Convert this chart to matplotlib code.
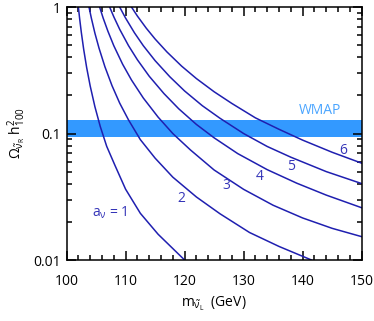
import numpy as np
import matplotlib
matplotlib.use("Agg")
import matplotlib.pyplot as plt
from matplotlib.ticker import MultipleLocator, FixedLocator, FixedFormatter

plt.rcParams['font.family'] = ['Open Sans', 'DejaVu Sans']
plt.rcParams['mathtext.fontset'] = 'custom'
plt.rcParams['mathtext.rm'] = 'Open Sans'
plt.rcParams['mathtext.it'] = 'Open Sans'
plt.rcParams['mathtext.sf'] = 'Open Sans'

# curve values: sneutrino mass (GeV) vs relic density
m1 = [102.0, 102.2, 102.5, 102.9, 103.4, 104.0, 104.8, 105.7, 106.8, 108.2, 110.0, 112.5, 115.5, 120.0]
o1 = [1.0, 0.821, 0.630, 0.463, 0.333, 0.238, 0.163, 0.114, 0.0792, 0.0560, 0.0363, 0.0234, 0.0160, 0.01]

m2 = [103.8, 104.2, 104.8, 105.5, 106.5, 107.7, 109.0, 110.5, 112.5, 115.0, 118.0, 122.0, 126.0, 131.0, 136.0, 141.5]
o2 = [1.0, 0.817, 0.622, 0.473, 0.337, 0.239, 0.174, 0.128, 0.0895, 0.0639, 0.0452, 0.0315, 0.0232, 0.0165, 0.0128, 0.01]

m3 = [105.6, 106.2, 107.0, 108.0, 109.5, 111.0, 113.0, 115.5, 118.0, 121.0, 125.0, 130.0, 135.0, 140.0, 145.0, 150.0]
o3 = [1.0, 0.818, 0.645, 0.495, 0.353, 0.265, 0.191, 0.135, 0.100, 0.0741, 0.0515, 0.0362, 0.0271, 0.0215, 0.0178, 0.0153]

m4 = [107.3, 108.0, 109.0, 110.5, 112.0, 114.0, 116.5, 119.0, 122.0, 125.0, 129.0, 134.0, 139.0, 144.0, 150.0]
o4 = [1.0, 0.838, 0.667, 0.495, 0.383, 0.284, 0.207, 0.157, 0.118, 0.0925, 0.0694, 0.0518, 0.0405, 0.0326, 0.0259]

m5 = [109.0, 110.0, 111.5, 113.0, 115.0, 117.5, 120.0, 123.0, 126.0, 130.0, 134.0, 138.0, 144.0, 150.0]
o5 = [1.0, 0.818, 0.626, 0.495, 0.377, 0.281, 0.217, 0.166, 0.132, 0.100, 0.0790, 0.0650, 0.0500, 0.0402]

m6 = [111.0, 112.0, 113.5, 115.0, 117.0, 119.5, 122.0, 125.0, 128.0, 132.0, 136.0, 140.0, 145.0, 150.0]
o6 = [1.0, 0.849, 0.681, 0.559, 0.442, 0.341, 0.272, 0.214, 0.173, 0.133, 0.108, 0.0887, 0.0711, 0.0583]

wmap_lo, wmap_hi = 0.094, 0.128

labels = ['2', '3', '4', '5', '6']
label_m = [119.5, 127.0, 132.8, 138.1, 146.9]
label_o = [0.0307, 0.039, 0.0456, 0.0553, 0.074]

line_col = '#1f1fb0'
text_col = '#3535b8'

fig = plt.figure(figsize=(3.74, 3.21), dpi=100)
ax = fig.add_axes([0.178, 0.19, 0.789, 0.788])

ax.axhspan(wmap_lo, wmap_hi, color='#3399ff', lw=0, zorder=1)
ax.text(143.0, 0.153, 'WMAP', color='#4aa5ff', fontsize=10, ha='center', va='center')

for m, o in [(m1, o1), (m2, o2), (m3, o3), (m4, o4), (m5, o5), (m6, o6)]:
    ax.plot(m, o, color=line_col, lw=1.1, zorder=2)

for t, x, y in zip(labels, label_m, label_o):
    ax.text(x, y, t, color=text_col, fontsize=10, ha='center', va='center')
ax.text(104.3, 0.0235, r'a$_\nu$ = 1', color=text_col, fontsize=10, ha='left', va='center')

ax.set_yscale('log')
ax.set_xlim(100, 150)
ax.set_ylim(0.01, 1)
ax.xaxis.set_major_locator(MultipleLocator(10))
ax.xaxis.set_minor_locator(MultipleLocator(2))
ax.yaxis.set_major_locator(FixedLocator([0.01, 0.1, 1]))
ax.yaxis.set_major_formatter(FixedFormatter(['0.01', '0.1', '1']))
ax.tick_params(which='both', direction='in', top=True, right=True, labelsize=10, width=1.1)
ax.tick_params(which='major', length=6.5)
ax.tick_params(which='minor', length=3.5)
ax.tick_params(axis='x', which='major', pad=10)
ax.tick_params(axis='y', which='major', pad=4)
for s in ax.spines.values():
    s.set_linewidth(1.1)

ax.set_xlabel(r'm$_{\tilde{\nu}_L}$  (GeV)', fontsize=10, labelpad=4)
ax.set_ylabel(r'$\Omega_{\tilde{\nu}_R}$ h$^2_{100}$', fontsize=10, labelpad=4)

fig.savefig('out.png', dpi=100)
